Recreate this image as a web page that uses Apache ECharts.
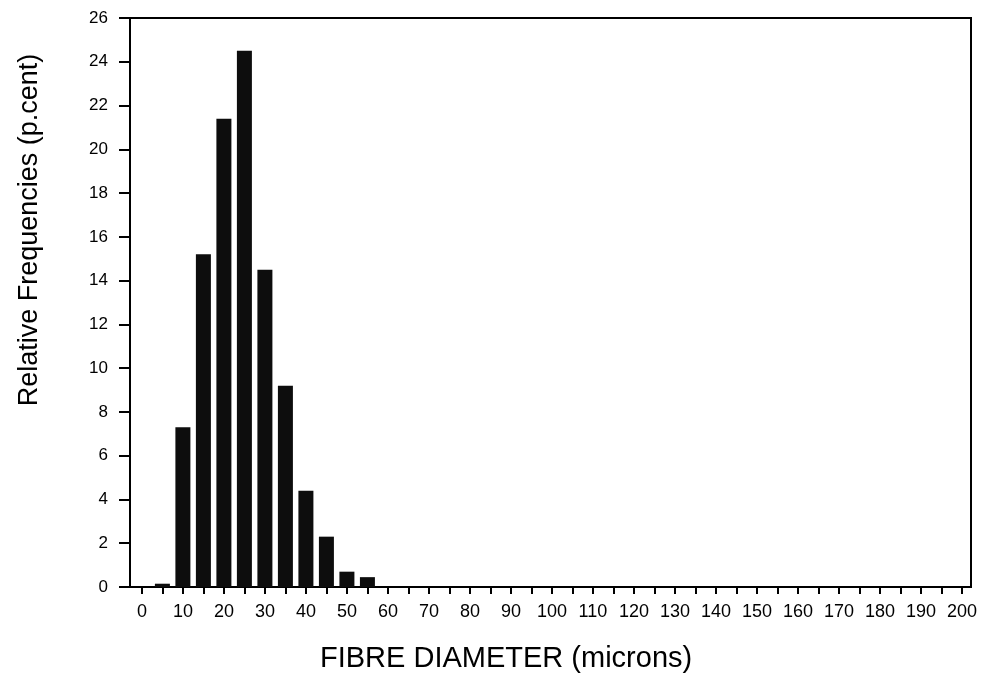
<!DOCTYPE html>
<html lang="en">
<head>
    <meta charset="UTF-8">
    <title>Fibre diameter</title>
    <style>
        html, body { margin: 0; padding: 0; background: #fff; }
        #main { width: 987px; height: 680px; }
    </style>
    <script src="https://cdn.jsdelivr.net/npm/echarts@6/dist/echarts.min.js"></script>
</head>
<body>
<div id="main"></div>
<script type="text/javascript">
    // diameter classes (microns) and relative frequencies (p.cent)
    var diameters = [5, 10, 15, 20, 25, 30, 35, 40, 45, 50, 55];
    var freqs = [0.15, 7.3, 15.2, 21.4, 24.5, 14.5, 9.2, 4.4, 2.3, 0.7, 0.45];

    // ticks on the x axis every 5, labels every 10
    var xTicks = [0, 5, 10, 15, 20, 25, 30, 35, 40, 45, 50, 55, 60, 65, 70, 75, 80, 85, 90, 95, 100,
        105, 110, 115, 120, 125, 130, 135, 140, 145, 150, 155, 160, 165, 170, 175, 180, 185, 190, 195, 200];
    var xLabels = [0, 10, 20, 30, 40, 50, 60, 70, 80, 90, 100, 110, 120, 130, 140, 150, 160, 170, 180, 190, 200];

    var font = 'Liberation Sans, Arial, sans-serif';
    var myChart = echarts.init(document.getElementById('main'));

    var points = [];
    for (var i = 0; i < diameters.length; i++) {
        points.push([diameters[i], freqs[i]]);
    }

    var option = {
        animation: false,
        grid: {
            left: 130, right: 16, top: 18, bottom: 93,
            show: true, borderColor: '#000', borderWidth: 2, backgroundColor: 'transparent'
        },
        xAxis: {
            type: 'value',
            min: -2.9,
            max: 202.2,
            splitLine: { show: false },
            axisLine: { show: true, onZero: false, lineStyle: { color: '#000', width: 2 } },
            axisTick: { show: true, customValues: xTicks, length: 7, lineStyle: { color: '#000', width: 2 } },
            axisLabel: { customValues: xLabels, margin: 16, color: '#000', fontSize: 18, fontFamily: font }
        },
        yAxis: {
            type: 'value',
            min: 0,
            max: 26,
            interval: 2,
            splitLine: { show: false },
            axisLine: { show: true, onZero: false, lineStyle: { color: '#000', width: 2 } },
            axisTick: { show: true, length: 11, lineStyle: { color: '#000', width: 2 } },
            axisLabel: { margin: 22, color: '#000', fontSize: 17, fontFamily: font }
        },
        graphic: [
            {
                type: 'text', left: 320, top: 644,
                style: { text: 'FIBRE DIAMETER (microns)', fill: '#000', font: '29px ' + font }
            },
            {
                type: 'text', x: 30, y: 230, rotation: Math.PI / 2,
                style: {
                    text: 'Relative Frequencies (p.cent)', fill: '#000',
                    font: '27px ' + font, align: 'center', verticalAlign: 'middle'
                }
            }
        ],
        series: [{
            type: 'bar',
            barWidth: 15,
            itemStyle: { color: '#0d0d0d' },
            data: points
        }]
    };
    myChart.setOption(option);
</script>
</body>
</html>
